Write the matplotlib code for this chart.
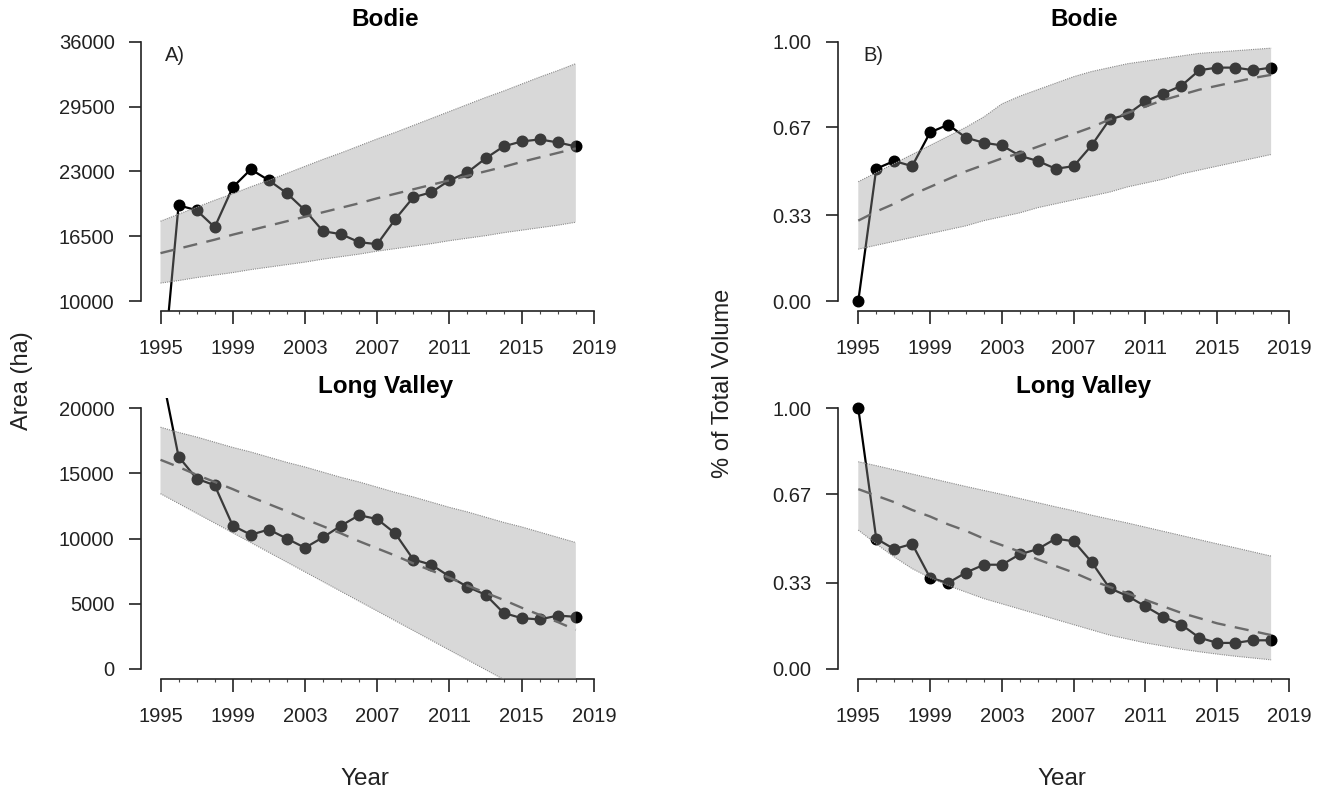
import matplotlib
matplotlib.use("Agg")
import matplotlib.pyplot as plt

plt.rcParams['font.family'] = ['Liberation Sans', 'DejaVu Sans']

years = [1995, 1996, 1997, 1998, 1999, 2000, 2001, 2002, 2003, 2004, 2005, 2006,
         2007, 2008, 2009, 2010, 2011, 2012, 2013, 2014, 2015, 2016, 2017, 2018]

# area (ha) per year
bodie_area = [0, 19600, 19100, 17400, 21400, 23200, 22100, 20800, 19100, 17000, 16700, 15900,
              15700, 18200, 20400, 20900, 22100, 22900, 24300, 25500, 26000, 26200, 25900, 25500]
bodie_area_fit = [14800, 15250, 15700, 16150, 16650, 17100, 17550, 18000, 18450, 18900, 19350, 19800,
                  20300, 20750, 21200, 21650, 22100, 22550, 23000, 23450, 23950, 24400, 24850, 25300]
bodie_area_hi = [18000, 18700, 19400, 20100, 20750, 21450, 22100, 22800, 23500, 24200, 24850, 25550,
                 26250, 26900, 27600, 28300, 29000, 29700, 30400, 31050, 31750, 32450, 33100, 33800]
bodie_area_lo = [11800, 12050, 12350, 12600, 12850, 13150, 13400, 13650, 13900, 14200, 14450, 14700,
                 15000, 15250, 15500, 15750, 16050, 16300, 16550, 16850, 17100, 17350, 17600, 17900]

lv_area = [23200, 16300, 14600, 14100, 11000, 10300, 10700, 10000, 9300, 10100, 11000, 11800,
           11500, 10400, 8400, 8000, 7100, 6300, 5700, 4300, 3900, 3800, 4100, 4000]
lv_area_fit = [16050, 15500, 14900, 14350, 13800, 13200, 12650, 12100, 11500, 10950, 10400, 9800,
               9250, 8700, 8100, 7550, 7000, 6400, 5850, 5300, 4700, 4150, 3600, 3000]
lv_area_hi = [18550, 18150, 17800, 17400, 17000, 16650, 16250, 15850, 15500, 15100, 14700, 14350,
              13950, 13550, 13200, 12800, 12400, 12050, 11650, 11250, 10900, 10500, 10100, 9700]
lv_area_lo = [13450, 12700, 11950, 11200, 10450, 9700, 8950, 8200, 7450, 6700, 5950, 5200,
              4450, 3700, 2950, 2200, 1450, 700, -50, -800, -1550, -2300, -3050, -3800]

# fraction of total volume per year
bodie_frac = [0.00, 0.51, 0.54, 0.52, 0.65, 0.68, 0.63, 0.61, 0.60, 0.56, 0.54, 0.51,
              0.52, 0.60, 0.70, 0.72, 0.77, 0.80, 0.83, 0.89, 0.90, 0.90, 0.89, 0.90]
bodie_frac_fit = [0.31, 0.345, 0.375, 0.41, 0.44, 0.47, 0.50, 0.525, 0.55, 0.57, 0.595, 0.62,
                  0.645, 0.67, 0.70, 0.725, 0.75, 0.775, 0.795, 0.815, 0.83, 0.845, 0.86, 0.872]
bodie_frac_hi = [0.46, 0.495, 0.53, 0.565, 0.60, 0.635, 0.67, 0.71, 0.76, 0.79, 0.815, 0.84,
                 0.865, 0.885, 0.90, 0.915, 0.925, 0.935, 0.945, 0.955, 0.96, 0.965, 0.97, 0.975]
bodie_frac_lo = [0.20, 0.215, 0.23, 0.245, 0.26, 0.275, 0.29, 0.31, 0.325, 0.34, 0.36, 0.375,
                 0.39, 0.405, 0.42, 0.44, 0.455, 0.47, 0.49, 0.505, 0.52, 0.535, 0.55, 0.565]

lv_frac = [1.00, 0.50, 0.46, 0.48, 0.35, 0.33, 0.37, 0.40, 0.40, 0.44, 0.46, 0.50,
           0.49, 0.41, 0.31, 0.28, 0.24, 0.20, 0.17, 0.12, 0.10, 0.10, 0.11, 0.11]
lv_frac_fit = [0.69, 0.665, 0.64, 0.61, 0.585, 0.555, 0.53, 0.50, 0.475, 0.45, 0.42, 0.395,
               0.37, 0.34, 0.315, 0.29, 0.265, 0.24, 0.215, 0.195, 0.175, 0.16, 0.145, 0.13]
lv_frac_hi = [0.795, 0.78, 0.764, 0.748, 0.732, 0.716, 0.70, 0.685, 0.67, 0.654, 0.638, 0.622,
              0.607, 0.59, 0.575, 0.56, 0.544, 0.528, 0.512, 0.496, 0.48, 0.465, 0.449, 0.433]
lv_frac_lo = [0.533, 0.48, 0.43, 0.385, 0.35, 0.32, 0.295, 0.27, 0.25, 0.23, 0.21, 0.19,
              0.17, 0.15, 0.13, 0.115, 0.10, 0.088, 0.076, 0.066, 0.057, 0.049, 0.042, 0.035]

year_ticks = [1995, 1999, 2003, 2007, 2011, 2015, 2019]
area_ticks_top = [10000, 16500, 23000, 29500, 36000]
area_ticks_bot = [0, 5000, 10000, 15000, 20000]
frac_ticks = [0.0, 0.33, 0.67, 1.0]
frac_labels = ['0.00', '0.33', '0.67', '1.00']

W, H = 1328, 795
fig = plt.figure(figsize=(W / 100, H / 100), dpi=100)
fig.patch.set_facecolor('white')


def place(l, r, t, b):
    return fig.add_axes([l / W, 1 - b / H, (r - l) / W, (b - t) / H])


# left column (area), right column (fraction); rows: Bodie, Long Valley
ax = [place(141, 630, 31.3, 311.4), place(141, 630, 397.9, 679.4),
      place(838, 1330, 31.3, 311.4), place(838, 1330, 397.9, 679.4)]

series = [(bodie_area, bodie_area_fit, bodie_area_lo, bodie_area_hi),
          (lv_area, lv_area_fit, lv_area_lo, lv_area_hi),
          (bodie_frac, bodie_frac_fit, bodie_frac_lo, bodie_frac_hi),
          (lv_frac, lv_frac_fit, lv_frac_lo, lv_frac_hi)]
titles = ['Bodie', 'Long Valley', 'Bodie', 'Long Valley']
xlims = [(1993.92, 2021.0), (1993.92, 2021.0), (1993.87, 2021.28), (1993.87, 2021.28)]
ylims = [(8960, 37040), (-800, 20800), (-0.04, 1.04), (-0.04, 1.04)]
yticks = [area_ticks_top, area_ticks_bot, frac_ticks, frac_ticks]
ylabels = [[str(v) for v in area_ticks_top], [str(v) for v in area_ticks_bot], frac_labels, frac_labels]

for j in range(4):
    obs, fit, lo, hi = series[j]
    a = ax[j]
    a.plot(years, obs, color='black', lw=1.6, marker='o', ms=7.6, zorder=2)
    a.fill_between(years, lo, hi, facecolor='#999999', alpha=0.38, lw=0, zorder=3)
    a.plot(years, lo, color='#8a8a8a', lw=0.8, ls=(0, (1, 1)), zorder=3)
    a.plot(years, hi, color='#8a8a8a', lw=0.8, ls=(0, (1, 1)), zorder=3)
    a.plot(years, fit, color='#6a6a6a', lw=1.7, ls=(0, (6, 4)), zorder=4)

    a.set_xlim(*xlims[j])
    a.set_ylim(*ylims[j])
    for s in ['top', 'right']:
        a.spines[s].set_visible(False)
    a.spines['left'].set_bounds(yticks[j][0], yticks[j][-1])
    a.spines['bottom'].set_bounds(1995, 2019)
    for s in ['left', 'bottom']:
        a.spines[s].set_linewidth(1.2)
        a.spines[s].set_color('#222222')
    a.set_xticks(year_ticks)
    a.set_xticklabels([str(y) for y in year_ticks])
    a.set_xticks(years + [2019], minor=True)
    a.set_yticks(yticks[j])
    a.set_yticklabels(ylabels[j])
    a.tick_params(which='major', length=9, width=1.2, color='#222222', labelsize=14.5,
                  labelcolor='#222222')
    a.tick_params(axis='x', which='major', pad=11)
    a.tick_params(axis='y', which='major', pad=10)
    a.tick_params(axis='x', which='minor', length=2.5, width=0.8, color='#444444')
    a.patch.set_alpha(0)
    a.set_title(titles[j], fontsize=17.5, fontweight='bold', pad=1.5)

fig.text(165 / W, 1 - 61 / H, 'A)', fontsize=14.5, ha='left', va='baseline', color='#222222')
fig.text(863 / W, 1 - 61 / H, 'B)', fontsize=14.5, ha='left', va='baseline', color='#222222')

fig.text(22 / W, 1 - 381 / H, 'Area (ha)', rotation=90, fontsize=17, ha='center', va='center',
         color='#222222')
fig.text(723 / W, 1 - 383 / H, '% of Total Volume', rotation=90, fontsize=17, ha='center',
         va='center', color='#222222')
fig.text(365 / W, 1 - 779 / H, 'Year', fontsize=17.5, ha='center', va='center', color='#222222')
fig.text(1062 / W, 1 - 779 / H, 'Year', fontsize=17.5, ha='center', va='center', color='#222222')

fig.savefig('out.png', dpi=100)
